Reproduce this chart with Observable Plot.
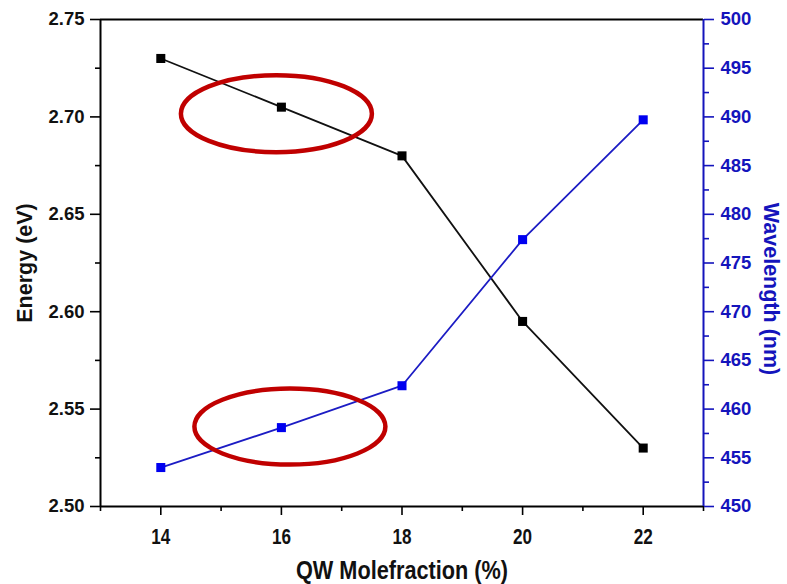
<!DOCTYPE html>
<html>
<head>
<meta charset="utf-8">
<script src="https://cdn.jsdelivr.net/npm/d3@7"></script>
<script src="https://cdn.jsdelivr.net/npm/@observablehq/plot@0.6"></script>
<style>
  html, body { margin: 0; padding: 0; background: #fff; }
  #chart svg { display: block; }
</style>
</head>
<body>
<div id="chart"></div>
<script>
// QW mole fraction (%) vs. transition energy and emission wavelength
const molefraction = [14, 16, 18, 20, 22];
const energy = [2.73, 2.705, 2.68, 2.595, 2.53];           // eV
const wavelength = [454.0, 458.1, 462.4, 477.4, 489.7];     // nm

const xTicks = [14, 16, 18, 20, 22];
const xMinorTicks = [13, 15, 17, 19, 21, 23];
const energyTicks = [2.50, 2.55, 2.60, 2.65, 2.70, 2.75];
const energyMinorTicks = [2.525, 2.575, 2.625, 2.675, 2.725];
const wavelengthTicks = [450, 455, 460, 465, 470, 475, 480, 485, 490, 495, 500];
const wavelengthMinorTicks = [452.5, 457.5, 462.5, 467.5, 472.5, 477.5, 482.5, 487.5, 492.5, 497.5];

const xTitle = "QW Molefraction (%)";
const energyTitle = "Energy (eV)";
const wavelengthTitle = "Wavelength (nm)";

// highlighted composition (circled on both curves)
const highlighted = 16;

const BLUE = "#0000f0";
const BLUE_TEXT = "#1414bc";
const RED = "#c00000";

// right axis: wavelength mapped onto the energy (y) scale
const wl = d3.scaleLinear().domain([450, 500]).range([2.5, 2.75]);

const rows = molefraction.map((m, i) => ({m, e: energy[i], w: wl(wavelength[i])}));

// red ellipse drawn around the highlighted point of each curve
function ellipseMark(key, dx, dy, rx, ry) {
  return (index, scales) => {
    const p = rows.find(r => r.m === highlighted);
    return d3.create("svg:ellipse")
      .attr("cx", scales.x(p.m) + dx)
      .attr("cy", scales.y(p[key]) + dy)
      .attr("rx", rx)
      .attr("ry", ry)
      .attr("fill", "none")
      .attr("stroke", RED)
      .attr("stroke-width", 4.5)
      .node();
  };
}

const chart = Plot.plot({
  width: 787,
  height: 584,
  marginLeft: 100,
  marginRight: 84,
  marginTop: 19,
  marginBottom: 78,
  style: {fontFamily: "'Liberation Sans', Arial, sans-serif", fontWeight: "bold", background: "#fff"},
  x: {domain: [13, 23]},
  y: {domain: [2.5, 2.75]},
  marks: [
    // frame
    Plot.ruleY([2.75], {stroke: "#000", strokeWidth: 1.8}),
    Plot.ruleY([2.5], {stroke: "#000", strokeWidth: 2}),
    Plot.ruleX([13], {stroke: "#000", strokeWidth: 2}),
    Plot.ruleX([23], {stroke: BLUE_TEXT, strokeWidth: 2}),

    // bottom axis
    Plot.axisX({ticks: xTicks, tickSize: 9, tickPadding: 13, tickFormat: d3.format("d"),
      fontSize: 22, stroke: "#000", strokeWidth: 1.6, fill: "#111", label: null}),
    Plot.axisX({ticks: xMinorTicks, tickSize: 5, tickFormat: () => "", stroke: "#000", strokeWidth: 1.6, label: null}),

    // left axis (energy)
    Plot.axisY({ticks: energyTicks, tickSize: 10, tickPadding: 6, tickFormat: d3.format(".2f"),
      fontSize: 18.5, stroke: "#000", strokeWidth: 1.6, fill: "#111", label: null}),
    Plot.axisY({ticks: energyMinorTicks, tickSize: 5, tickFormat: () => "", stroke: "#000", strokeWidth: 1.6, label: null}),

    // right axis (wavelength)
    Plot.axisY({anchor: "right", ticks: wavelengthTicks.map(wl), tickSize: 10, tickPadding: 7,
      tickFormat: e => String(Math.round(wl.invert(e))),
      fontSize: 18.5, stroke: BLUE_TEXT, strokeWidth: 1.6, fill: BLUE_TEXT, label: null}),
    Plot.axisY({anchor: "right", ticks: wavelengthMinorTicks.map(wl), tickSize: 5, tickFormat: () => "",
      stroke: BLUE_TEXT, strokeWidth: 1.6, label: null}),

    // energy series
    Plot.line(rows, {x: "m", y: "e", stroke: "#111", strokeWidth: 1.8}),
    Plot.dot(rows, {x: "m", y: "e", symbol: "square", r: 5.1, fill: "#000", stroke: "none"}),

    // wavelength series
    Plot.line(rows, {x: "m", y: "w", stroke: "#1c1cc4", strokeWidth: 1.8}),
    Plot.dot(rows, {x: "m", y: "w", symbol: "square", r: 5.1, fill: BLUE, stroke: "none"}),

    // highlight ellipses
    ellipseMark("e", -4.5, 7, 95.5, 38.5),
    ellipseMark("w", 9, -0.5, 95.5, 38),

    // axis titles
    Plot.text([energyTitle], {frameAnchor: "left", dx: -75, rotate: -90, fontSize: 21.5,
      fontWeight: "bold", fill: "#111", textAnchor: "middle", lineAnchor: "middle"}),
    Plot.text([wavelengthTitle], {frameAnchor: "right", dx: 67, dy: 26, rotate: 90, fontSize: 21.5,
      fontWeight: "bold", fill: BLUE_TEXT, textAnchor: "middle", lineAnchor: "middle"}),
    Plot.text([xTitle], {frameAnchor: "bottom", dy: 64, fontSize: 26,
      fontWeight: "bold", fill: "#111", textAnchor: "middle", lineAnchor: "middle"})
  ]
});

// condensed lettering on the bottom axis: squeeze glyphs to a narrow width
const svg = d3.select(chart);
svg.selectAll('g[aria-label="x-axis tick label"] text').each(function () {
  const t = this.textContent;
  if (!t) return;
  this.setAttribute("textLength", 19 * t.length / 2);
  this.setAttribute("lengthAdjust", "spacingAndGlyphs");
});
svg.selectAll("text").filter(function () { return this.textContent === xTitle; })
  .attr("textLength", 212)
  .attr("lengthAdjust", "spacingAndGlyphs");

document.getElementById("chart").appendChild(chart);
</script>
</body>
</html>
